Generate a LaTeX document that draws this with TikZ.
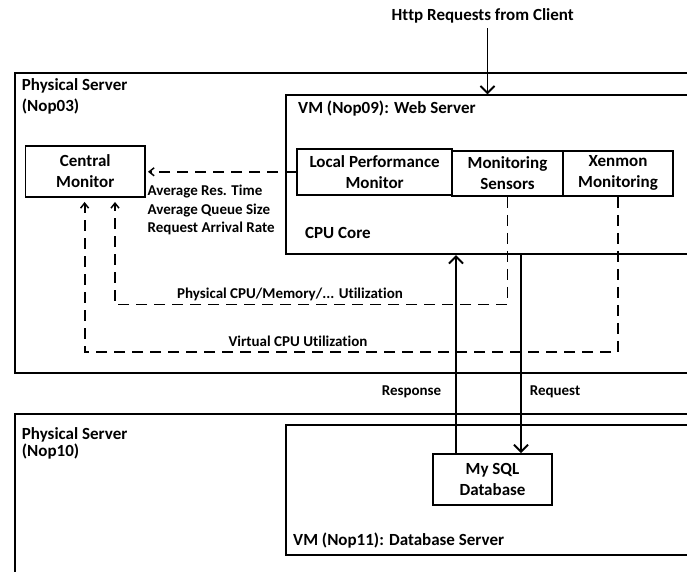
\documentclass[tikz,border=0pt]{standalone}
\usepackage{fontspec}
\setmainfont{Carlito}[Ligatures={CommonOff,ContextualOff,RareOff}]
\usetikzlibrary{arrows.meta}
\tikzset{
  lw/.style={line width=1.9pt},
  box/.style={draw, lw, rectangle, inner sep=0pt, align=center, font=\bfseries\fontsize{17}{21}\selectfont},
  frame/.style={draw, lw, rectangle, inner sep=0pt, anchor=north west},
  txt/.style={inner sep=0pt, anchor=west, align=left, font=\bfseries\fontsize{17}{19}\selectfont},
  lbl/.style={inner sep=0pt, font=\bfseries\fontsize{15}{18}\selectfont},
  dasharrow/.style={lw, dash pattern=on 11pt off 7pt, -{Straight Barb[length=5pt,width=8pt,line width=1.5pt]}},
  solidarrow/.style={lw, -{Straight Barb[length=7pt,width=14pt,line width=1.9pt]}},
}
\begin{document}
\begin{tikzpicture}[x=1pt,y=-1pt]
\useasboundingbox (0,0) rectangle (687,571);
\clip (0,0) rectangle (687,571);
% outer frames
\node[frame, minimum width=700pt, minimum height=300pt] (ps1) at (14,71.7) {};
\node[frame, minimum width=700pt, minimum height=200pt] (ps2) at (14,412.7) {};
\node[frame, minimum width=420pt, minimum height=159pt] (vm1) at (285,94.3) {};
\node[frame, minimum width=420pt, minimum height=130pt] (vm2) at (285,424.3) {};
% texts
\node[txt] (http) at (391.5,15.5) {Ht\kern0ptt\kern0ptp Requests from Client};
\node[txt] (ps1t) at (21.7,86) {Physical Server};
\node[txt] (ps1n) at (21.7,106.5) {(Nop03)};
\node[txt] (vm1t) at (298,109) {VM (Nop09): Web Server};
\node[txt] (cpu) at (305,232.5) {CPU Core};
\node[txt] (ps2t) at (21.7,434.5) {Physical Server};
\node[txt] (ps2n) at (21.7,451.5) {(Nop10)};
\node[txt] (vm2t) at (293,540.5) {VM (Nop11): Database Server};
% boxes
\node[box, minimum width=119.5pt, minimum height=51pt] (cm) at (85.25,171.5) {Central\\Monitor};
\node[box, minimum width=155.3pt, minimum height=45.5pt] (lpm) at (374.6,171.8) {Local Performance\\Monitor};
\node[box, minimum width=110.4pt, minimum height=45.3pt] (ms) at (507.5,173.3) {Monitoring\\Sensors};
\node[box, minimum width=110.6pt, minimum height=45.3pt] (xm) at (618,173.3) {Xenmon\\Monitoring};
\node[box, minimum width=119pt, minimum height=51pt] (db) at (492.5,479.5) {My SQL\\Database};
% labels
\node[lbl, anchor=west] (l1) at (147.5,191.8) {Average Res. Time};
\node[lbl, anchor=west] (l2) at (147.5,210.2) {Average Queue Size};
\node[lbl, anchor=west] (l3) at (147.5,228.6) {Request Arrival Rate};
\node[lbl] (l4) at (290,294.5) {Physical CPU/Memory/... Utilizat\kern0ption};
\node[lbl] (l5) at (298,341) {Virtual CPU Utilizat\kern0ption};
\node[lbl] (l6) at (411.5,391.7) {Response};
\node[lbl] (l7) at (555,391.7) {Request};
% connectors
\coordinate (hx) at (487.5,28);
\draw[solidarrow] (hx) -- (hx |- vm1.north);
\draw[dasharrow, shorten >=2pt] (lpm.west) -- (lpm.west -| cm.east);
\coordinate (p1) at (115,304.5);
\draw[dasharrow, shorten >=4pt] (ms.south) |- (p1) -- (p1 |- cm.south);
\coordinate (p2) at (84.6,352);
\draw[dasharrow, shorten >=4pt] (xm.south) |- (p2) -- (p2 |- cm.south);
\coordinate (rx) at (456,0);
\coordinate (qx) at (521,0);
\draw[solidarrow] (rx |- db.north) -- (rx |- vm1.south);
\draw[solidarrow] (qx |- vm1.south) -- (qx |- db.north);
\end{tikzpicture}
\end{document}
